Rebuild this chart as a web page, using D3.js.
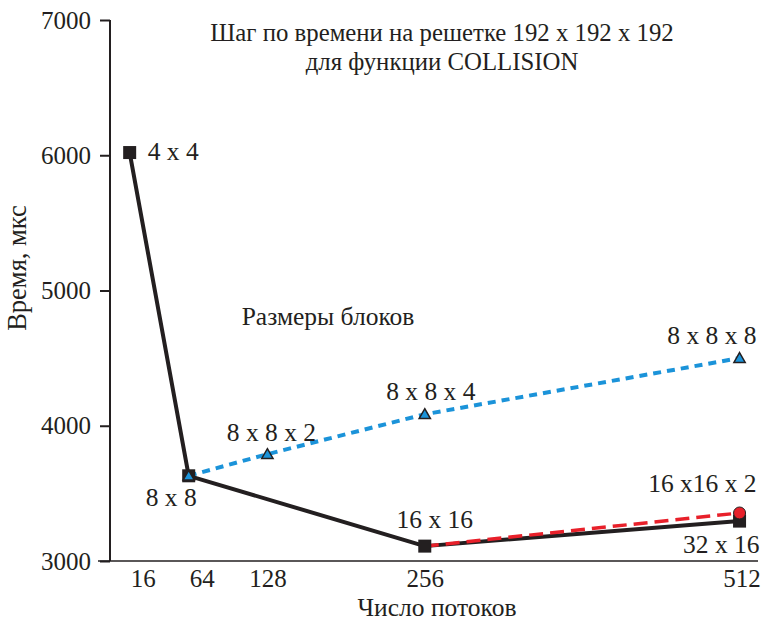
<!DOCTYPE html>
<html>
<head>
<meta charset="utf-8">
<script src="https://cdn.jsdelivr.net/npm/d3@7"></script>
<style>
  html, body { margin: 0; padding: 0; background: #fff; }
  svg { display: block; }
  text { font-family: "Liberation Serif", "DejaVu Serif", serif; fill: #231f20; }
</style>
</head>
<body>
<script>
// ---- data ----
const threadTicks = [16, 64, 128, 256, 512];
const timeTicks = [3000, 4000, 5000, 6000, 7000];

const blackThreads = [16, 64, 256, 512];
const blackTimes   = [6020, 3630, 3110, 3295];
const blackLabels  = ["4 x 4", "8 x 8", "16 x 16", "32 x 16"];

const blueThreads = [64, 128, 256, 512];
const blueTimes   = [3630, 3790, 4085, 4500];
const blueLabels  = ["", "8 x 8 x 2", "8 x 8 x 4", "8 x 8 x 8"];

const redThreads = [256, 512];
const redTimes   = [3110, 3355];
const redLabels  = ["", "16 x16 x 2"];

const titleLines = ["Шаг по времени на решетке 192 х 192 х 192", "для функции COLLISION"];
const xTitle = "Число потоков";
const yTitle = "Время, мкс";
const noteText = "Размеры блоков";

// ---- layout ----
const W = 764, H = 622;
const ink = "#231f20";
const blue = "#1b93d9";
const red = "#e8202a";

const svg = d3.select("body").append("svg").attr("width", W).attr("height", H);

const x = d3.scaleLinear().domain([0, 527]).range([110, 758]);
const y = d3.scaleLinear().domain([3000, 7000]).range([561, 20]);

// y axis
const yAxis = svg.append("g").attr("transform", `translate(${x(0)},0)`)
  .call(d3.axisLeft(y).tickValues(timeTicks).tickSize(10).tickPadding(9).tickFormat(d3.format("d")));
yAxis.select(".domain").attr("stroke", ink).attr("stroke-width", 2).attr("d", `M0,${y(7000)}V${y(3000)}`);
yAxis.selectAll(".tick line").attr("stroke", ink).attr("stroke-width", 2);
yAxis.selectAll(".tick text").attr("font-size", 25).attr("font-family", "Liberation Serif").attr("fill", ink);

// x axis
const xAxis = svg.append("g").attr("transform", `translate(0,${y(3000)})`)
  .call(d3.axisBottom(x).tickValues(threadTicks).tickSize(0).tickPadding(8).tickFormat(d3.format("d")));
xAxis.select(".domain").attr("stroke", ink).attr("stroke-width", 1.6).attr("d", `M98,0H758`);
xAxis.selectAll(".tick text").attr("font-size", 25).attr("font-family", "Liberation Serif").attr("fill", ink)
  .attr("dx", d => d < 100 ? 13 : (d === 512 ? 2 : 0)).attr("dy", "0.72em");

// titles
svg.append("text").attr("x", 442).attr("y", 41).attr("text-anchor", "middle").attr("font-size", 24.8).text(titleLines[0]);
svg.append("text").attr("x", 442).attr("y", 70).attr("text-anchor", "middle").attr("font-size", 24.8).text(titleLines[1]);
svg.append("text").attr("x", 437).attr("y", 616).attr("text-anchor", "middle").attr("font-size", 25.5).text(xTitle);
svg.append("text").attr("transform", "translate(26,268) rotate(-90)").attr("text-anchor", "middle").attr("font-size", 26.5).text(yTitle);
svg.append("text").attr("x", 328).attr("y", 325).attr("text-anchor", "middle").attr("font-size", 25.5).text(noteText);

// lines
const zip = (xs, ys, ls) => xs.map((v, i) => ({ t: v, v: ys[i], label: ls[i] }));
const black = zip(blackThreads, blackTimes, blackLabels);
const blueS = zip(blueThreads, blueTimes, blueLabels);
const redS = zip(redThreads, redTimes, redLabels);
const line = d3.line().x(d => x(d.t)).y(d => y(d.v));

svg.append("path").datum(black).attr("d", line).attr("fill", "none").attr("stroke", ink).attr("stroke-width", 4).attr("stroke-linejoin", "round");
svg.append("path").datum(blueS).attr("d", line).attr("fill", "none").attr("stroke", blue).attr("stroke-width", 4).attr("stroke-dasharray", "8,6");
svg.append("path").datum(redS).attr("d", line).attr("fill", "none").attr("stroke", red).attr("stroke-width", 3.5).attr("stroke-dasharray", "14,7");

// markers
svg.selectAll(".sq").data(black).enter().append("rect")
  .attr("x", d => x(d.t) - 6.5).attr("y", d => y(d.v) - 6.5).attr("width", 13).attr("height", 13).attr("fill", ink);
const tri = d3.symbol().type(d3.symbolTriangle).size(55);
svg.selectAll(".tri").data(blueS).enter().append("path")
  .attr("d", tri).attr("transform", d => `translate(${x(d.t)},${y(d.v) + 1})`)
  .attr("fill", blue).attr("stroke", ink).attr("stroke-width", 1.5);
svg.selectAll(".cir").data(redS.slice(1)).enter().append("circle")
  .attr("cx", d => x(d.t)).attr("cy", d => y(d.v)).attr("r", 6).attr("fill", red).attr("stroke", ink).attr("stroke-width", 1);

// point labels (placement offsets relative to marker)
const placement = {
  "4 x 4": { dx: 18, dy: 7, anchor: "start" },
  "8 x 8": { dx: 8, dy: 30, anchor: "end" },
  "16 x 16": { dx: 10, dy: -18, anchor: "middle" },
  "32 x 16": { dx: 20, dy: 32, anchor: "end" },
  "8 x 8 x 2": { dx: 4, dy: -13, anchor: "middle" },
  "8 x 8 x 4": { dx: 6, dy: -14, anchor: "middle" },
  "8 x 8 x 8": { dx: 17, dy: -14, anchor: "end" },
  "16 x16 x 2": { dx: 17, dy: -21, anchor: "end" }
};
const labeled = black.concat(blueS, redS).filter(d => d.label);
svg.selectAll(".lbl").data(labeled).enter().append("text")
  .attr("x", d => x(d.t) + placement[d.label].dx)
  .attr("y", d => y(d.v) + placement[d.label].dy)
  .attr("text-anchor", d => placement[d.label].anchor)
  .attr("font-size", 25.5)
  .text(d => d.label);
</script>
</body>
</html>
